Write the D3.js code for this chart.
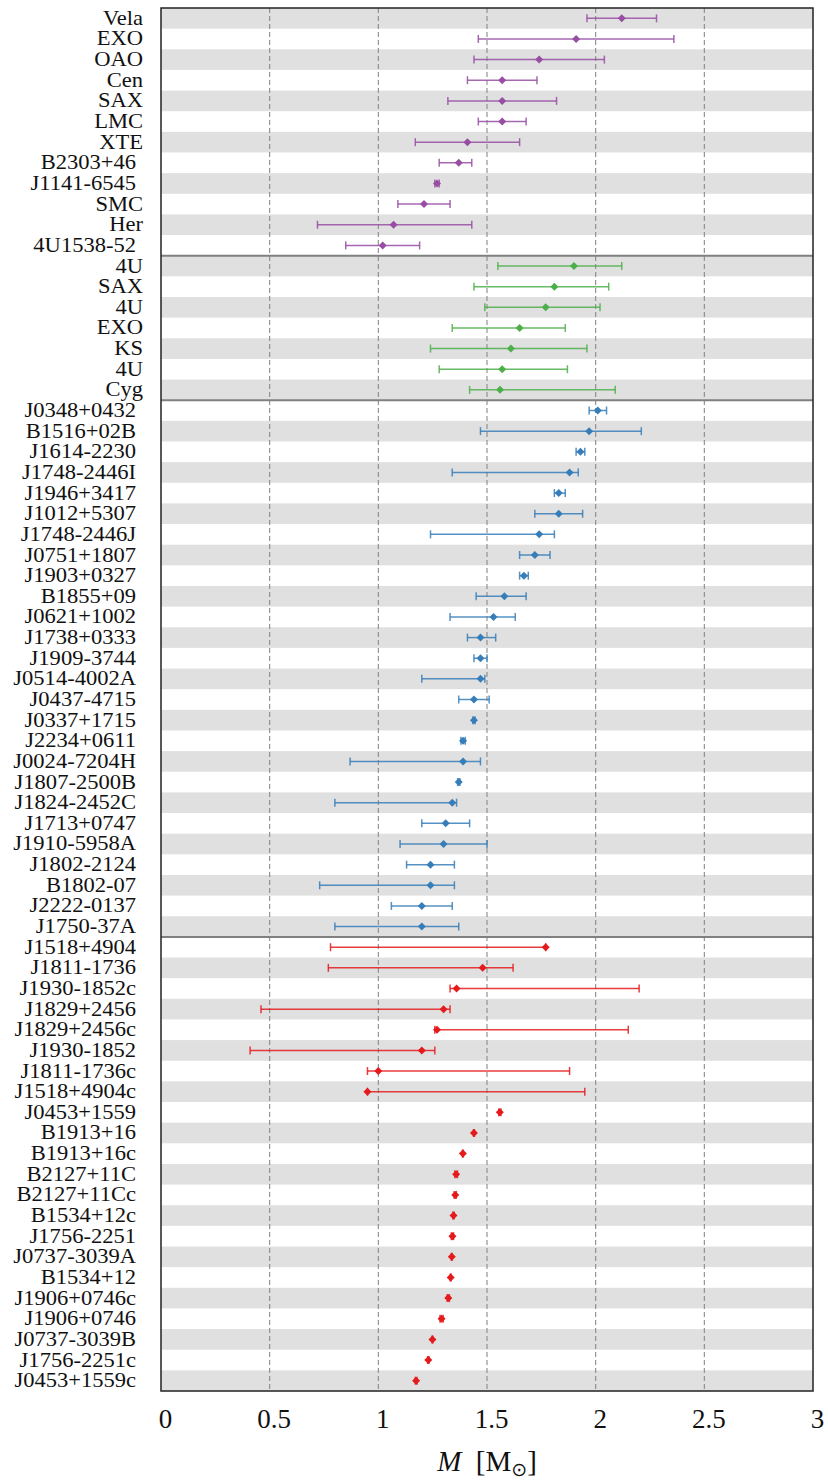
<!DOCTYPE html>
<html>
<head>
<meta charset="utf-8">
<script src="https://cdn.jsdelivr.net/npm/d3@7"></script>
<style>
  body { margin: 0; background: #fff; }
  text { font-family: 'Liberation Serif', 'Times New Roman', serif; fill: #111; }
</style>
</head>
<body>
<div class="chart"></div>
<script>
const width = 828;
const height = 1482;
const margin = { top: 8, right: 15, bottom: 91, left: 161 };

// x-ray binaries (purple)
const purpleNames = ['Vela', 'EXO', 'OAO', 'Cen', 'SAX', 'LMC', 'XTE', 'B2303+46', 'J1141-6545', 'SMC', 'Her', '4U1538-52'];
const purpleMass = [2.12, 1.91, 1.74, 1.57, 1.57, 1.57, 1.41, 1.37, 1.27, 1.21, 1.07, 1.02];
const purpleLo = [1.96, 1.46, 1.44, 1.41, 1.32, 1.46, 1.17, 1.28, 1.26, 1.09, 0.72, 0.85];
const purpleHi = [2.28, 2.36, 2.04, 1.73, 1.82, 1.68, 1.65, 1.43, 1.28, 1.33, 1.43, 1.19];

// bursters (green)
const greenNames = ['4U', 'SAX', '4U', 'EXO', 'KS', '4U', 'Cyg'];
const greenMass = [1.9, 1.81, 1.77, 1.65, 1.61, 1.57, 1.56];
const greenLo = [1.55, 1.44, 1.49, 1.34, 1.24, 1.28, 1.42];
const greenHi = [2.12, 2.06, 2.02, 1.86, 1.96, 1.87, 2.09];

// NS-WD binaries (blue)
const blueNames = ['J0348+0432', 'B1516+02B', 'J1614-2230', 'J1748-2446I', 'J1946+3417', 'J1012+5307',
  'J1748-2446J', 'J0751+1807', 'J1903+0327', 'B1855+09', 'J0621+1002', 'J1738+0333', 'J1909-3744',
  'J0514-4002A', 'J0437-4715', 'J0337+1715', 'J2234+0611', 'J0024-7204H', 'J1807-2500B', 'J1824-2452C',
  'J1713+0747', 'J1910-5958A', 'J1802-2124', 'B1802-07', 'J2222-0137', 'J1750-37A'];
const blueMass = [2.01, 1.97, 1.93, 1.88, 1.83, 1.83, 1.74, 1.72, 1.67, 1.58, 1.53, 1.47, 1.47,
  1.47, 1.44, 1.44, 1.39, 1.39, 1.37, 1.34, 1.31, 1.3, 1.24, 1.24, 1.2, 1.2];
const blueLo = [1.97, 1.47, 1.91, 1.34, 1.81, 1.72, 1.24, 1.65, 1.65, 1.45, 1.33, 1.41, 1.44,
  1.2, 1.37, 1.435, 1.38, 0.87, 1.365, 0.8, 1.2, 1.1, 1.13, 0.73, 1.06, 0.8];
const blueHi = [2.05, 2.21, 1.95, 1.92, 1.86, 1.94, 1.81, 1.79, 1.69, 1.68, 1.63, 1.54, 1.5,
  1.49, 1.51, 1.445, 1.4, 1.47, 1.375, 1.36, 1.42, 1.5, 1.35, 1.35, 1.34, 1.37];

// NS-NS binaries (red)
const redNames = ['J1518+4904', 'J1811-1736', 'J1930-1852c', 'J1829+2456', 'J1829+2456c', 'J1930-1852',
  'J1811-1736c', 'J1518+4904c', 'J0453+1559', 'B1913+16', 'B1913+16c', 'B2127+11C', 'B2127+11Cc',
  'B1534+12c', 'J1756-2251', 'J0737-3039A', 'B1534+12', 'J1906+0746c', 'J1906+0746', 'J0737-3039B',
  'J1756-2251c', 'J0453+1559c'];
const redMass = [1.77, 1.48, 1.36, 1.3, 1.27, 1.2, 1.0, 0.95, 1.559, 1.44, 1.389, 1.358, 1.354,
  1.346, 1.341, 1.338, 1.333, 1.322, 1.291, 1.249, 1.23, 1.174];
const redLo = [0.78, 0.77, 1.33, 0.46, 1.26, 0.41, 0.95, 0.95, 1.554, 1.438, 1.387, 1.352, 1.349,
  1.343, 1.336, 1.336, 1.331, 1.317, 1.284, 1.247, 1.227, 1.17];
const redHi = [1.77, 1.62, 2.2, 1.33, 2.15, 1.26, 1.88, 1.95, 1.564, 1.442, 1.391, 1.364, 1.359,
  1.349, 1.346, 1.340, 1.335, 1.327, 1.298, 1.251, 1.233, 1.178];

const groupColors = ['#984ea3', '#4daf4a', '#377eb8', '#e41a1c'];
const xTicks = [0, 0.5, 1, 1.5, 2, 2.5, 3];

const groups = [
  [purpleNames, purpleMass, purpleLo, purpleHi],
  [greenNames, greenMass, greenLo, greenHi],
  [blueNames, blueMass, blueLo, blueHi],
  [redNames, redMass, redLo, redHi]
];

const rows = [];
const groupStarts = [];
groups.forEach((g, gi) => {
  groupStarts.push(rows.length);
  g[0].forEach((name, i) => {
    rows.push({ idx: rows.length, name: name, m: g[1][i], lo: g[2][i], hi: g[3][i], group: gi });
  });
});

const svg = d3
  .select('.chart')
  .append('svg')
  .attr('width', width)
  .attr('height', height);

const x = d3
  .scaleLinear()
  .domain([0, 3])
  .range([margin.left, width - margin.right]);
const y = d3
  .scaleBand()
  .domain(rows.map(d => d.idx))
  .range([margin.top, height - margin.bottom]);

// alternating row stripes
svg
  .selectAll('.band')
  .data(rows.filter(d => d.idx % 2 === 0))
  .enter()
  .append('rect')
  .attr('x', x(0))
  .attr('y', d => y(d.idx))
  .attr('width', x(3) - x(0))
  .attr('height', y.bandwidth())
  .attr('fill', '#e0e0e0');

// dashed grid
svg
  .selectAll('.grid')
  .data(xTicks.filter(t => t > 0 && t < 3))
  .enter()
  .append('line')
  .attr('x1', d => x(d))
  .attr('x2', d => x(d))
  .attr('y1', margin.top)
  .attr('y2', height - margin.bottom)
  .attr('stroke', '#8a8a8a')
  .attr('stroke-width', 1.1)
  .attr('stroke-dasharray', '5,3');

// group separators
svg
  .selectAll('.sep')
  .data(groupStarts.slice(1))
  .enter()
  .append('line')
  .attr('x1', x(0))
  .attr('x2', x(3))
  .attr('y1', d => y(d))
  .attr('y2', d => y(d))
  .attr('stroke', '#808080')
  .attr('stroke-width', 2);

// error bars
const bars = svg
  .selectAll('.err')
  .data(rows)
  .enter()
  .append('g')
  .attr('stroke', d => groupColors[d.group])
  .attr('stroke-opacity', 0.85)
  .attr('stroke-width', 1.5);
bars
  .append('line')
  .attr('x1', d => x(d.lo))
  .attr('x2', d => x(d.hi))
  .attr('y1', d => y(d.idx) + y.bandwidth() / 2)
  .attr('y2', d => y(d.idx) + y.bandwidth() / 2);
['lo', 'hi'].forEach(k => {
  bars
    .append('line')
    .attr('x1', d => x(d[k]))
    .attr('x2', d => x(d[k]))
    .attr('y1', d => y(d.idx) + y.bandwidth() / 2 - 4)
    .attr('y2', d => y(d.idx) + y.bandwidth() / 2 + 4);
});

// diamond markers
const diamond = d3.symbol().type(d3.symbolSquare).size(32);
svg
  .selectAll('.pt')
  .data(rows)
  .enter()
  .append('path')
  .attr('d', diamond)
  .attr('transform', d => `translate(${x(d.m)},${y(d.idx) + y.bandwidth() / 2}) rotate(45)`)
  .attr('fill', d => groupColors[d.group]);

// frame
svg
  .append('rect')
  .attr('x', x(0))
  .attr('y', margin.top)
  .attr('width', x(3) - x(0))
  .attr('height', height - margin.bottom - margin.top)
  .attr('fill', 'none')
  .attr('stroke', '#222')
  .attr('stroke-width', 1.5);

// row labels (slightly widened serif to mimic the wider TeX glyphs)
svg
  .selectAll('.lbl')
  .data(rows)
  .enter()
  .append('text')
  .attr('transform', d => {
    const ax = d.name.length <= 4 ? 143 : 136;
    const ay = y(d.idx) + y.bandwidth() / 2 + 6.5;
    return `translate(${ax},${ay}) scale(1.1,1)`;
  })
  .attr('text-anchor', 'end')
  .style('font-size', '20.5px')
  .text(d => d.name);

// x axis
const xAxis = svg
  .append('g')
  .attr('transform', `translate(0,${height - margin.bottom})`)
  .call(d3.axisBottom(x).tickValues(xTicks).tickSize(0).tickFormat(d3.format('~g')));
xAxis.select('.domain').remove();
xAxis
  .selectAll('text')
  .attr('y', 37)
  .attr('dy', 0)
  .attr('x', 4)
  .style('font-family', "'Liberation Serif', serif")
  .style('font-size', '27px')
  .attr('fill', '#111');

const xLabel = svg
  .append('text')
  .attr('x', x(1.5))
  .attr('y', 1471)
  .attr('text-anchor', 'middle')
  .style('font-size', '29px');
xLabel.append('tspan').style('font-style', 'italic').text('M');
xLabel.append('tspan').text('\u2002[M');
xLabel.append('tspan').attr('dy', 5).style('font-size', '19px').style('font-family', 'DejaVu Sans').text('\u2299');
xLabel.append('tspan').attr('dy', -5).text(']');
</script>
</body>
</html>
